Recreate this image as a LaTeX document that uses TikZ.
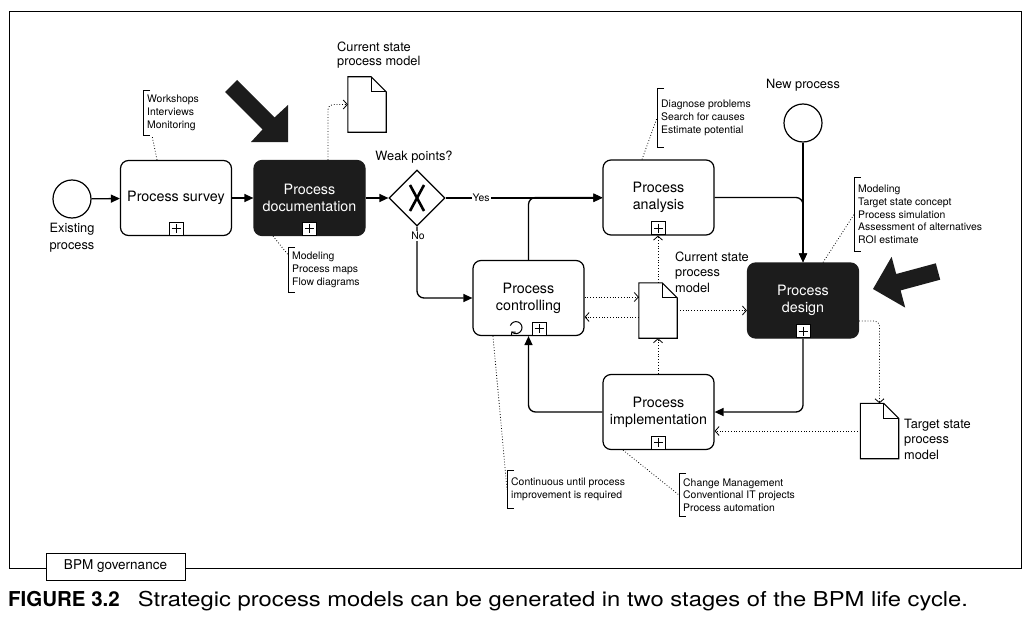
\documentclass[tikz,border=0pt]{standalone}
\usepackage{fontspec}
\usepackage{graphicx}
\setmainfont{TeX Gyre Heros}
\usetikzlibrary{shapes.geometric,arrows.meta}
\definecolor{mydark}{RGB}{28,28,28}
\begin{document}
\begin{tikzpicture}[x=1pt,y=-1pt,
  task/.style={draw, rounded corners=8pt, line width=1.2pt, minimum width=111pt, minimum height=75pt, align=center, inner sep=1pt, font=\fontsize{14.3}{17}\selectfont},
  darktask/.style={task, draw=mydark, fill=mydark, text=white},
  event/.style={circle, draw, line width=1.2pt, minimum size=38pt, inner sep=0pt},
  gateway/.style={diamond, draw, line width=1.2pt, minimum width=56pt, minimum height=56pt, inner sep=0pt},
  docnode/.style={fill=white, minimum width=38pt, minimum height=55pt, inner sep=0pt},
  marker/.style={draw, fill=white, line width=0.9pt, minimum width=14pt, minimum height=13pt, inner sep=0pt},
  lbl/.style={align=left, inner sep=0pt, font=\fontsize{12.8}{15.5}\selectfont},
  annot/.style={anchor=west, align=left, inner xsep=4pt, inner ysep=4.5pt, font=\fontsize{10.4}{12.7}\selectfont},
  flow/.style={line width=1.3pt, rounded corners=7pt, -{Triangle[length=9pt,width=8pt]}},
  note/.style={line width=0.8pt, dash pattern=on 0.8pt off 2pt},
  assoc/.style={note, rounded corners=5pt, -{Straight Barb[length=4pt,width=9pt,line width=0.8pt]}}
]
    \useasboundingbox (0,0) rectangle (1032,623);
    \draw[line width=1pt] (9,12) rectangle (1021,568);

    \node[event] (start) at (72,199) {};
    \node[task] (survey) at (176,198) {Process survey};
    \node[darktask] (docu) at (309.5,198) {Process\\documentation};
    \node[gateway] (gw) at (417,198) {};
    \node[task] (analysis) at (658.5,197.5) {Process\\analysis};
    \node[task] (control) at (528.5,298) {Process\\controlling};
    \node[task] (impl) at (658.5,412) {Process\\implementation};
    \node[darktask] (design) at (803,300.5) {Process\\design};
    \node[event] (newproc) at (803,123) {};
    \node[docnode] (cur1) at (367,104.5) {};
    \node[docnode] (cur2) at (658,310.5) {};
    \node[docnode] (target) at (879.5,431) {};

    \foreach \d in {cur1,cur2,target} {
        \draw[line width=1.1pt] (\d.south west) -- (\d.north west) -- ([xshift=-15pt]\d.north east) -- ([yshift=-15pt]\d.north east) -- (\d.south east) -- cycle;
        \draw[line width=1.1pt] ([xshift=-15pt]\d.north east) |- ([yshift=-15pt]\d.north east);
    }

    \foreach \t in {survey,docu,analysis,impl,design} {
        \node[marker] (m\t) at ([yshift=7.5pt]\t.south) {};
    }
    \node[marker] (mcontrol) at ([xshift=10.5pt,yshift=7.5pt]control.south) {};
    \foreach \t in {survey,docu,analysis,impl,design,control} {
        \draw[line width=1pt] (m\t.center) +(-4.5,0) -- +(4.5,0) (m\t.center) +(0,-4.5) -- +(0,4.5);
    }
    \draw[line width=1pt, -{Straight Barb[length=2.5pt,width=5.5pt]}] ([xshift=-12.5pt,yshift=8.5pt]control.south) ++(-160:6) arc[start angle=-160, end angle=140, radius=6];
    \draw[line width=2.6pt] (gw.center) +(-7,-13) -- +(7,13) (gw.center) +(7,-13) -- +(-7,13);

    \draw[flow] (start) -- (survey);
    \draw[flow] (survey) -- (docu);
    \draw[flow] (docu) -- (gw);
    \draw[flow] (gw.east) -- (gw.east -| analysis.west);
    \draw[flow] (gw.south) |- (control.west);
    \draw[flow] (control.north) |- (analysis.west);
    \draw[flow] (analysis.east) -| (design.north);
    \draw[flow] (newproc.south) -- (design.north);
    \draw[flow] (design.south) |- (impl.east);
    \draw[flow] (impl.west) -| (control.south);

    \draw[assoc] ([xshift=18.5pt]docu.north) |- (cur1.west);
    \draw[assoc] ([yshift=1pt]control.east) -- ([yshift=1pt]control.east -| cur2.west);
    \draw[assoc] ([yshift=-19pt]control.east -| cur2.west) -- ([yshift=-19pt]control.east);
    \draw[assoc] (cur2.east) -- (cur2.east -| design.west);
    \draw[assoc] (cur2.north) -- (cur2.north |- analysis.south);
    \draw[assoc] (cur2.south |- impl.north) -- (cur2.south);
    \draw[assoc] ([yshift=-20.5pt]design.east) -| (target.north);
    \draw[assoc] (target.west) -- (target.west -| impl.east);

    \node[annot] (a1) at (143,113) {Workshops\\Interviews\\Monitoring};
    \node[annot] (a2) at (288,270) {Modeling\\Process maps\\Flow diagrams};
    \node[annot, minimum height=58pt] (a3) at (657,118) {Diagnose problems\\Search for causes\\Estimate potential};
    \node[annot, minimum height=73pt] (a4) at (854,214.5) {Modeling\\Target state concept\\Process simulation\\Assessment of alternatives\\ROI estimate};
    \node[annot, minimum height=37pt] (a5) at (507,489.5) {Continuous until process\\improvement is required};
    \node[annot] (a6) at (679,495) {Change Management\\Conventional IT projects\\Process automation};
    \foreach \a in {a1,a2,a3,a4,a5,a6} {
        \draw[line width=0.9pt] ([xshift=7pt]\a.north west) -| (\a.south west) -- ([xshift=7pt]\a.south west);
    }

    \draw[note] ([xshift=-19pt]survey.north) -- ([xshift=9pt]a1.south west);
    \draw[note] ([xshift=-36.5pt]docu.south) -- ([yshift=-7pt]a2.north west);
    \draw[note] ([xshift=-16.5pt]analysis.north) -- (a3.west);
    \draw[note] ([xshift=20pt]design.north) -- (a4.west);
    \draw[note] ([xshift=-35.5pt]control.south) -- (a5.west);
    \draw[note] ([xshift=-35.5pt]impl.south) -- (a6.west);

    \node[lbl, align=center, font=\fontsize{12.8}{17}\selectfont] (startlbl) at (72,238) {Existing\\process};
    \node[lbl, anchor=west, font=\fontsize{12.8}{14}\selectfont] (cur1lbl) at (337,55) {Current state\\process model};
    \node[lbl] (gwlbl) at (414,157) {Weak points?};
    \node[lbl] (newlbl) at (803,85) {New process};
    \node[lbl, anchor=west] (cur2lbl) at (675,272) {Current state\\process\\model};
    \node[lbl, anchor=west] (targetlbl) at (904,439) {Target state\\process\\model};
    \node[fill=white, inner sep=1pt, font=\fontsize{10.4}{12}\selectfont] (yes) at (481,197.5) {Yes};
    \node[fill=white, inner sep=1pt, font=\fontsize{10.4}{12}\selectfont] (no) at (418,236) {No};

    \fill[mydark] (225,92) -- (237,80) -- (274.5,117.5) -- (288,105) -- (288,142) -- (251,142) -- (262.5,129.5) -- cycle;
    \fill[mydark] (935.8,263.3) -- (896.2,274.0) -- (891.6,256.8) -- (873,289) -- (905.2,307.6) -- (900.6,290.4) -- (940.2,279.7) -- cycle;

    \node[draw, fill=white, line width=1pt, minimum width=139pt, minimum height=27pt, inner sep=0pt, font=\fontsize{13.5}{15}\selectfont] (gov) at (115.5,566.5) {BPM governance};
    \node[anchor=base west, inner sep=0pt, font=\fontsize{20.5}{24}\selectfont] (caption) at (8,606) {\textbf{FIGURE 3.2}\hspace{18pt}\scalebox{1.16}[1]{Strategic process models can be generated in two stages of the BPM life cycle.}};
\end{tikzpicture}
\end{document}
